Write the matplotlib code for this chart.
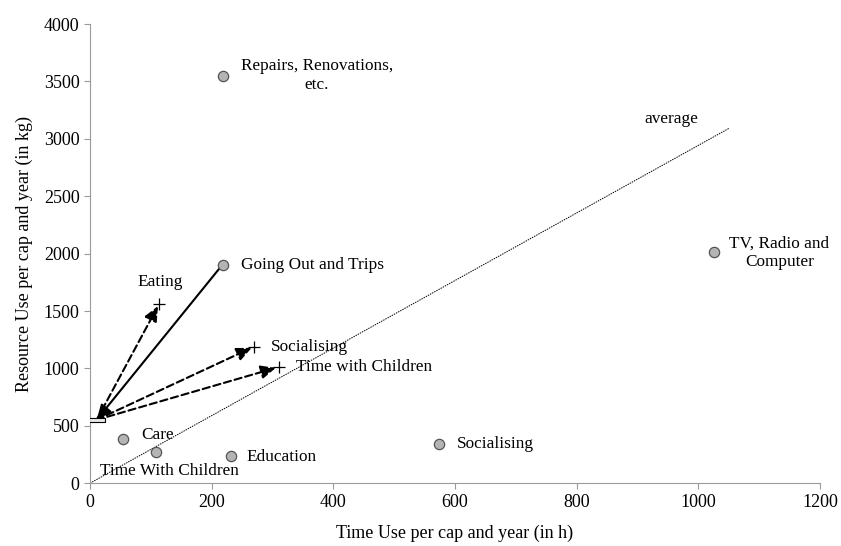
import numpy as np
import matplotlib
matplotlib.use("Agg")
import matplotlib.pyplot as plt

plt.rcParams['font.family'] = ['Liberation Serif', 'DejaVu Serif']

# activity points (time in h, resource in kg)
act_names = ["Repairs, Renovations,\netc.", "Going Out and Trips", "TV, Radio and\nComputer",
             "Care", "Time With Children", "Education", "Socialising"]
act_time = [218, 218, 1025, 54, 108, 231, 574]
act_res = [3550, 1905, 2010, 381, 276, 238, 345]

# shifted activities (crosses)
shift_names = ["Eating", "Socialising", "Time with Children"]
shift_time = [114, 270, 310]
shift_res = [1565, 1190, 1012]

# starting point
start_time = 11
start_res = 552

# average line
avg_time = [0, 1050]
avg_res = [0, 3090]

gray = "#9a9a9a"

fig = plt.figure(figsize=(8.41, 5.46), dpi=100)
ax = fig.add_axes([0.107, 0.115, 0.868, 0.841])

# average line
ax.plot(avg_time, avg_res, color="black", lw=0.7, ls=(0, (1.5, 1.0)))
ax.text(955, 3170, "average", fontsize=12.4, ha="center", va="center")

# solid arrow from Going Out back to start
ax.annotate("", xy=(start_time, start_res), xytext=(act_time[1], act_res[1]),
            arrowprops=dict(arrowstyle="-|>,head_length=0.9,head_width=0.4",
                            color="black", lw=1.5, shrinkA=0, shrinkB=0))

# dashed arrows from start to shifted activities
for t, r in zip(shift_time, shift_res):
    ax.annotate("", xy=(t, r), xytext=(start_time, start_res),
                arrowprops=dict(arrowstyle="-|>,head_length=0.9,head_width=0.4",
                                color="black", lw=1.5, ls=(0, (3.5, 1.8)),
                                shrinkA=0, shrinkB=2))

ax.scatter(shift_time, shift_res, marker="+", s=75, color="black", lw=0.9, zorder=4)

# activity dots
ax.scatter(act_time, act_res, s=55, color="#b4b4b4", edgecolor="#555555", lw=0.9, zorder=5)

# start marker (flat rectangle)
rect = [(-2, -0.5), (2, -0.5), (2, 0.5), (-2, 0.5), (-2, -0.5)]
ax.scatter([start_time], [start_res], marker=rect, s=120, color="#e8e8e8",
           edgecolor="black", lw=0.8, zorder=6)

# labels
fs = 12.4
ax.text(act_time[0] + 30, act_res[0], act_names[0], fontsize=fs, ha="left",
        va="center", multialignment="center")
ax.text(248, act_res[1], act_names[1], fontsize=fs, ha="left", va="center")
ax.text(1051, act_res[2], act_names[2], fontsize=fs, ha="left", va="center",
        multialignment="center")
ax.text(85, 419, act_names[3], fontsize=fs, ha="left", va="center")
ax.text(16, 110, act_names[4], fontsize=fs, ha="left", va="center")
ax.text(257, 230, act_names[5], fontsize=fs, ha="left", va="center")
ax.text(603, act_res[6], act_names[6], fontsize=fs, ha="left", va="center")

ax.text(116, 1750, shift_names[0], fontsize=fs, ha="center", va="center")
ax.text(297, shift_res[1], shift_names[1], fontsize=fs, ha="left", va="center")
ax.text(338, shift_res[2], shift_names[2], fontsize=fs, ha="left", va="center")

ax.set_xlim(0, 1200)
ax.set_ylim(0, 4000)
ax.set_xticks(np.arange(0, 1201, 200))
ax.set_yticks(np.arange(0, 4001, 500))
ax.tick_params(labelsize=13, color=gray, length=4, direction="out")
for s in ["top", "right"]:
    ax.spines[s].set_visible(False)
for s in ["left", "bottom"]:
    ax.spines[s].set_color(gray)
    ax.spines[s].set_linewidth(0.8)

ax.set_xlabel("Time Use per cap and year (in h)", fontsize=13, labelpad=10)
ax.set_ylabel("Resource Use per cap and year (in kg)", fontsize=13, labelpad=8)

fig.savefig("out.png", dpi=100)
